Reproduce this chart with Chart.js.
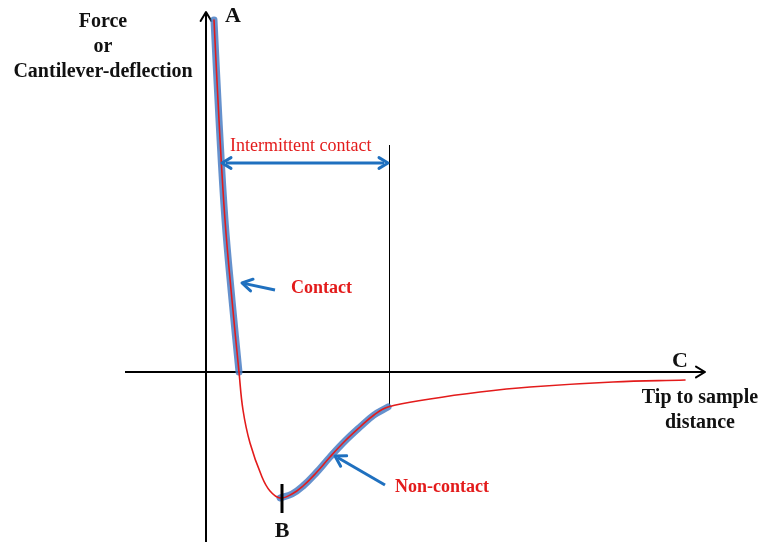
<!DOCTYPE html>
<html>
<head>
<meta charset="utf-8">
<script src="https://cdn.jsdelivr.net/npm/chart.js@4.4.1/dist/chart.umd.min.js"></script>
<style>
    html, body { margin: 0; padding: 0; background: #fff; }
    #wrap { width: 761px; height: 542px; position: relative; }
</style>
</head>
<body>
<div id="wrap"><canvas id="chart"></canvas></div>
<script>
// ── Data (x = tip to sample distance, y = force; arbitrary units) ──
const curveX = [0.8, 1.3, 1.9, 2.6, 3.3, 3.7, 4.4, 5.6, 6.4, 7.4, 8.6, 9.7, 11.0, 12.4, 13.9, 15.4, 16.8, 18.2, 22.4, 27.4, 32.4, 40.7, 47.9];
const curveY = [35.2, 25.2, 15.2, 7.2, 0, -3.8, -7.1, -10.5, -11.9, -12.6, -12.2, -11.4, -10.1, -8.5, -6.9, -5.5, -4.3, -3.5, -2.7, -2.0, -1.5, -1.0, -0.8];

// highlighted regions (index ranges into the curve)
const contactRange = [0, 4];
const nonContactRange = [9, 17];

// axes extents
const xAxisRange = [-8.1, 49.9];
const yAxisRange = [-17.3, 36.0];

// annotation anchors
const intermittentX = [1.6, 18.2];
const intermittentY = 20.9;
const intermittentLineY = [22.7, -3.5];
const contactArrow = [[6.9, 8.2], [3.6, 8.9]];
const nonContactArrow = [[17.9, -11.3], [12.9, -8.4]];
const minTickX = 7.6;
const minTickY = [-11.2, -14.1];

const RED = '#e31b1b';
const BLUE = '#1f70bf';
const BAND = 'rgba(74,126,196,0.85)';

function pts(a, b) {
    const out = [];
    for (let i = a; i <= b; i++) out.push({ x: curveX[i], y: curveY[i] });
    return out;
}

const diagramPlugin = {
    id: 'diagram',
    beforeDatasetsDraw(chart) {
        const { ctx, scales: { x, y } } = chart;
        const px = v => x.getPixelForValue(v);
        const py = v => y.getPixelForValue(v);
        ctx.save();
        ctx.strokeStyle = '#000';
        ctx.lineWidth = 2;
        // x axis
        ctx.beginPath();
        ctx.moveTo(px(xAxisRange[0]), py(0));
        ctx.lineTo(px(xAxisRange[1]), py(0));
        ctx.stroke();
        arrowHead(ctx, px(xAxisRange[1]), py(0), 0, 9, '#000', 2);
        // y axis
        ctx.beginPath();
        ctx.moveTo(px(0), py(yAxisRange[0]));
        ctx.lineTo(px(0), py(yAxisRange[1]));
        ctx.stroke();
        arrowHead(ctx, px(0), py(yAxisRange[1]), -Math.PI / 2, 9, '#000', 2);

        // thin vertical line at end of intermittent region
        const lx = Math.round(px(intermittentX[1])) + 1.5;
        ctx.lineWidth = 1;
        ctx.beginPath();
        ctx.moveTo(lx, py(intermittentLineY[0]));
        ctx.lineTo(lx, py(intermittentLineY[1]));
        ctx.stroke();
        ctx.restore();
    },
    afterDatasetsDraw(chart) {
        const { ctx, scales: { x, y } } = chart;
        const px = v => x.getPixelForValue(v);
        const py = v => y.getPixelForValue(v);
        ctx.save();

        // tick at the minimum (B)
        const bx = px(minTickX);
        ctx.strokeStyle = '#000';
        ctx.lineWidth = 3;
        ctx.beginPath();
        ctx.moveTo(bx, py(minTickY[0]));
        ctx.lineTo(bx, py(minTickY[1]));
        ctx.stroke();

        // intermittent double arrow
        const ix0 = px(intermittentX[0]), ix1 = px(intermittentX[1]), iy = py(intermittentY);
        ctx.strokeStyle = BLUE;
        ctx.lineWidth = 3;
        ctx.beginPath();
        ctx.moveTo(ix0 + 4, iy);
        ctx.lineTo(ix1 - 4, iy);
        ctx.stroke();
        arrowHead(ctx, ix1, iy, 0, 9, BLUE, 3);
        arrowHead(ctx, ix0, iy, Math.PI, 9, BLUE, 3);

        // pointer arrows
        [contactArrow, nonContactArrow].forEach(a => {
            const x0 = px(a[0][0]), y0 = py(a[0][1]), x1 = px(a[1][0]), y1 = py(a[1][1]);
            const ang = Math.atan2(y1 - y0, x1 - x0);
            ctx.strokeStyle = BLUE;
            ctx.lineWidth = 3;
            ctx.beginPath();
            ctx.moveTo(x0, y0);
            ctx.lineTo(x1 - 3 * Math.cos(ang), y1 - 3 * Math.sin(ang));
            ctx.stroke();
            arrowHead(ctx, x1, y1, ang, 10, BLUE, 3);
        });

        // texts
        ctx.textAlign = 'center';
        ctx.textBaseline = 'middle';
        ctx.fillStyle = '#111';
        ctx.font = 'bold 20px "Liberation Serif", serif';
        ctx.fillText('Force', 103, 22);
        ctx.fillText('or', 103, 47);
        ctx.fillText('Cantilever-deflection', 103, 72);
        ctx.fillText('Tip to sample', 700, 398);
        ctx.fillText('distance', 700, 423);
        ctx.font = 'bold 22px "Liberation Serif", serif';
        ctx.fillText('A', 233, 16);
        ctx.fillText('C', 680, 361);
        ctx.fillText('B', 282, 531);

        ctx.fillStyle = RED;
        ctx.font = '18px "Liberation Serif", serif';
        ctx.textAlign = 'left';
        ctx.fillText('Intermittent contact', 230, 146);
        ctx.font = 'bold 18px "Liberation Serif", serif';
        ctx.fillText('Contact', 291, 288);
        ctx.fillText('Non-contact', 395, 487);
        ctx.restore();
    }
};

function arrowHead(ctx, x, y, ang, len, color, w) {
    ctx.save();
    ctx.translate(x, y);
    ctx.rotate(ang);
    ctx.strokeStyle = color;
    ctx.lineWidth = w;
    ctx.lineCap = 'round';
    ctx.lineJoin = 'round';
    ctx.beginPath();
    ctx.moveTo(-len, -len * 0.6);
    ctx.lineTo(0, 0);
    ctx.lineTo(-len, len * 0.6);
    ctx.stroke();
    ctx.restore();
}

const line = (data, color, width, order) => ({
    data,
    order,
    showLine: true,
    borderColor: color,
    borderWidth: width,
    pointRadius: 0,
    tension: 0.4,
    borderCapStyle: 'round',
    fill: false,
});

new Chart(document.getElementById('chart'), {
    type: 'scatter',
    data: {
        datasets: [
            line(pts(0, curveX.length - 1), RED, 1.6, 0),
            line(pts(contactRange[0], contactRange[1]), BAND, 7, 1),
            line(pts(nonContactRange[0], nonContactRange[1]), BAND, 7, 1),
        ],
    },
    options: {
        responsive: true,
        maintainAspectRatio: false,
        animation: false,
        layout: { padding: 0 },
        plugins: { legend: { display: false }, tooltip: { enabled: false } },
        scales: {
            x: { type: 'linear', min: -20.6, max: 55.5, display: false },
            y: { type: 'linear', min: -17.0, max: 37.2, display: false },
        },
    },
    plugins: [diagramPlugin],
});
</script>
</body>
</html>
